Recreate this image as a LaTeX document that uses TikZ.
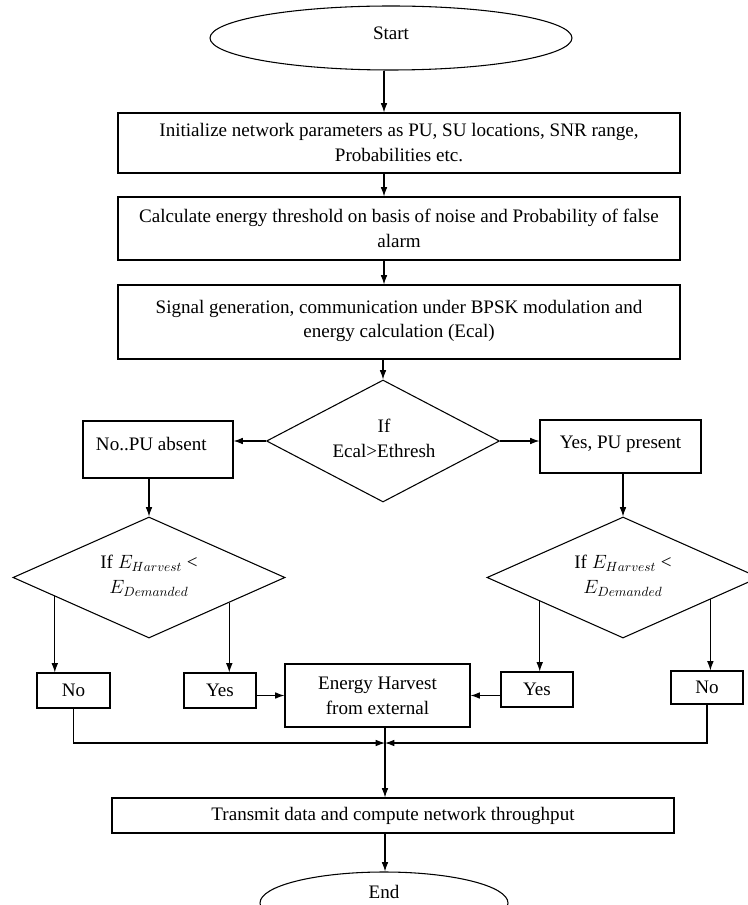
\documentclass[tikz,border=0pt]{standalone}
\usepackage{fontspec}
\setmainfont{Liberation Serif}
\usetikzlibrary{shapes.geometric,arrows.meta,calc}
\begin{document}
\begin{tikzpicture}[x=0.75pt,y=-0.75pt,
  every node/.style={font=\fontsize{14.3}{18.75}\selectfont},
  box/.style={draw, line width=0.8pt, inner sep=0pt, align=center},
  ell/.style={draw, ellipse, line width=0.8pt, inner sep=0pt},
  dia/.style={draw, diamond, line width=0.8pt, inner sep=0pt},
  lbl/.style={align=center, inner sep=0pt},
  arr/.style={line width=0.8pt, -{Latex[length=7pt,width=5pt]}},
  ln/.style={line width=0.8pt}]
\useasboundingbox (0,0) rectangle (748,905);

% top column
\node[ell, minimum width=271.5pt, minimum height=48pt] (start) at (391,38) {\raisebox{7pt}{Start}};
\node[box, minimum width=421.5pt, minimum height=45pt] (init) at (399,143)
  {Initialize network parameters as PU, SU locations, SNR range,\\Probabilities etc.};
\node[box, minimum width=421.5pt, minimum height=47.25pt] (calc) at (399,228.5)
  {Calculate energy threshold on basis of noise and Probability of false\\alarm};
\node[box, minimum width=421.5pt, minimum height=55.5pt] (sig) at (399,322)
  {\raisebox{4pt}{\shortstack{Signal generation, communication under BPSK modulation and\\[2pt]energy calculation (Ecal)}}};

% first decision
\node[dia, minimum width=174.75pt, minimum height=91.5pt] (d1) at (383,441) {};
\node[lbl] (d1t) at (384,438) {If\\Ecal>Ethresh};
\node[box, minimum width=112.5pt, minimum height=42.75pt] (nopu) at (158,449.5) {\raisebox{8pt}{\hspace*{-10pt}No..PU absent}};
\node[box, minimum width=120.75pt, minimum height=39.75pt] (yespu) at (620.5,446.5) {\raisebox{6pt}{Yes, PU present}};

% second decisions
\node[dia, minimum width=204pt, minimum height=90.75pt] (d2l) at (149,577.5) {};
\node[lbl] (d2lt) at (149,576) {If $E_{Harvest}$ <\\$E_{Demanded}$};
\node[dia, minimum width=204pt, minimum height=90.75pt] (d2r) at (623,577.5) {};
\node[lbl] (d2rt) at (623,576) {If $E_{Harvest}$ <\\$E_{Demanded}$};

% outcome boxes
\node[box, minimum width=54.75pt, minimum height=26.25pt] (nol) at (73.5,690.5) {No};
\node[box, minimum width=54pt, minimum height=26.25pt] (yesl) at (220,690.5) {Yes};
\node[box, minimum width=138.75pt, minimum height=47.25pt] (energy) at (377.5,695.5) {Energy Harvest\\from external};
\node[box, minimum width=54pt, minimum height=26.25pt] (yesr) at (537,689.5) {Yes};
\node[box, minimum width=54pt, minimum height=24.75pt] (nor) at (707,687.5) {No};

\node[box, minimum width=421.5pt, minimum height=26.25pt] (trans) at (393,815.5) {Transmit data and compute network throughput};
\node[ell, minimum width=186pt, minimum height=46.5pt] (end) at (384,903) {};
\node[lbl] (endt) at (384,892) {End};

% connectors
\coordinate (sp) at (384,0);
\coordinate (m) at (385,743);
\draw[arr] (start.south -| sp) -- (init.north -| sp);
\draw[arr] (init.south -| sp) -- (calc.north -| sp);
\draw[arr] (calc.south -| sp) -- (sig.north -| sp);
\draw[arr] (sig.south -| d1.north) -- (d1.north);
\draw[arr] (d1.west) -- (d1.west -| nopu.east);
\draw[arr] (d1.east) -- (d1.east -| yespu.west);
\draw[arr] (d2l.north |- nopu.south) -- (d2l.north);
\draw[arr] (d2r.north |- yespu.south) -- (d2r.north);

\coordinate (a1) at ($(d2l.west)!0.31!(d2l.south)$);
\coordinate (a2) at ($(d2l.south)!0.588!(d2l.east)$);
\coordinate (a3) at ($(d2r.west)!0.39!(d2r.south)$);
\coordinate (a4) at ($(d2r.south)!0.64!(d2r.east)$);
\draw[arr] (a1) -- (a1 |- nol.north);
\draw[arr] (a2) -- (a2 |- yesl.north);
\draw[arr] (a3) -- (a3 |- yesr.north);
\draw[arr] (a4) -- (a4 |- nor.north);

\draw[arr] (yesl.east |- energy.west) -- (energy.west);
\draw[arr] (yesr.west |- energy.east) -- (energy.east);

\draw[arr] (nol.south) |- (m);
\draw[arr] (nor.south) |- (m);
\draw[arr] (m |- energy.south) -- (m |- trans.north);
\draw[arr] (m |- trans.south) -- (m |- end.north);
\end{tikzpicture}
\end{document}
